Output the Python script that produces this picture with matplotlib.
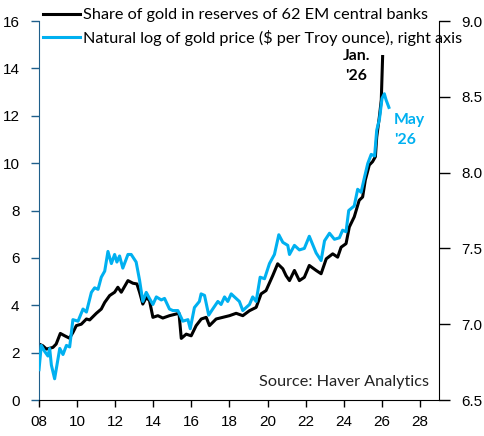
#!/usr/bin/env python3
# EM central bank gold share vs log gold price (dual axis)
import matplotlib
matplotlib.use("Agg")
import matplotlib.pyplot as plt
from matplotlib.ticker import FormatStrFormatter

# share of gold in reserves, 62 EM central banks (%, left axis)
share_years = [2008.00, 2008.20, 2008.39, 2008.73, 2008.90, 2009.12, 2009.35, 2009.60,
               2009.78, 2009.96, 2010.22, 2010.49, 2010.66, 2011.01, 2011.27, 2011.45,
               2011.71, 2011.97, 2012.14, 2012.32, 2012.67, 2012.93, 2013.14, 2013.28,
               2013.45, 2013.63, 2013.80, 2013.98, 2014.24, 2014.50, 2014.85, 2015.20,
               2015.35, 2015.47, 2015.73, 2015.99, 2016.25, 2016.52, 2016.78, 2016.95,
               2017.30, 2017.65, 2018.00, 2018.35, 2018.70, 2019.05, 2019.40, 2019.66,
               2019.92, 2020.27, 2020.53, 2020.80, 2020.97, 2021.15, 2021.41, 2021.67,
               2021.93, 2022.19, 2022.55, 2022.81, 2023.08, 2023.42, 2023.68, 2023.86,
               2024.12, 2024.29, 2024.55, 2024.81, 2024.99, 2025.13, 2025.34, 2025.51,
               2025.66, 2025.73, 2025.87, 2025.97, 2026.04]
share_gold = [2.36, 2.29, 2.15, 2.22, 2.36, 2.81, 2.71, 2.61,
              2.85, 3.14, 3.20, 3.42, 3.38, 3.66, 3.84, 4.12,
              4.41, 4.55, 4.76, 4.55, 5.04, 4.93, 4.90, 4.55,
              4.05, 4.33, 4.20, 3.49, 3.56, 3.46, 3.56, 3.63,
              3.66, 2.60, 2.78, 2.71, 3.14, 3.42, 3.49, 3.14,
              3.42, 3.49, 3.56, 3.66, 3.56, 3.77, 3.91, 4.48,
              4.62, 5.25, 5.75, 5.54, 5.25, 5.04, 5.47, 5.04,
              5.18, 5.68, 5.47, 5.33, 5.96, 6.17, 6.03, 6.45,
              6.60, 7.30, 7.73, 8.43, 8.57, 9.28, 9.92, 10.06,
              10.27, 11.10, 11.96, 12.67, 14.50]

# natural log of gold price, $ per troy ounce (right axis)
gold_years = [2008.00, 2008.12, 2008.30, 2008.47, 2008.56, 2008.65, 2008.82, 2009.09,
              2009.26, 2009.44, 2009.61, 2009.78, 2010.05, 2010.31, 2010.49, 2010.75,
              2010.92, 2011.10, 2011.27, 2011.45, 2011.62, 2011.80, 2011.97, 2012.09,
              2012.23, 2012.40, 2012.67, 2012.84, 2013.10, 2013.28, 2013.45, 2013.63,
              2013.80, 2013.98, 2014.16, 2014.42, 2014.59, 2014.85, 2015.03, 2015.29,
              2015.55, 2015.82, 2015.94, 2016.16, 2016.42, 2016.51, 2016.69, 2016.91,
              2017.12, 2017.39, 2017.56, 2017.74, 2017.91, 2018.09, 2018.26, 2018.52,
              2018.70, 2019.05, 2019.22, 2019.40, 2019.61, 2019.84, 2020.10, 2020.36,
              2020.59, 2020.80, 2021.06, 2021.15, 2021.41, 2021.67, 2021.93, 2022.19,
              2022.55, 2022.81, 2022.99, 2023.25, 2023.51, 2023.77, 2023.94, 2024.12,
              2024.26, 2024.55, 2024.73, 2024.91, 2025.09, 2025.26, 2025.44, 2025.62,
              2025.73, 2025.87, 2026.01, 2026.13, 2026.22, 2026.37]
gold_log = [6.70, 6.86, 6.82, 6.79, 6.84, 6.73, 6.64, 6.84,
            6.80, 6.86, 6.85, 7.03, 7.02, 7.10, 7.08, 7.21,
            7.24, 7.23, 7.31, 7.35, 7.48, 7.40, 7.46, 7.41,
            7.45, 7.37, 7.46, 7.46, 7.41, 7.29, 7.15, 7.21,
            7.17, 7.13, 7.18, 7.16, 7.17, 7.10, 7.09, 7.09,
            7.02, 7.03, 6.97, 7.11, 7.15, 7.20, 7.19, 7.06,
            7.10, 7.15, 7.13, 7.18, 7.15, 7.20, 7.18, 7.15,
            7.09, 7.13, 7.18, 7.15, 7.31, 7.30, 7.40, 7.46,
            7.59, 7.54, 7.52, 7.46, 7.52, 7.49, 7.50, 7.58,
            7.47, 7.42, 7.55, 7.60, 7.56, 7.57, 7.62, 7.61,
            7.75, 7.78, 7.89, 7.87, 7.97, 8.06, 8.12, 8.11,
            8.28, 8.35, 8.49, 8.52, 8.48, 8.43]

x_ticks = list(range(2008, 2030, 2))
x_labels = [f"{y % 100:02d}" for y in x_ticks]

BLUE = "#00B0F0"
TICK_FONT = "Liberation Sans"
TEXT_FONT = "Lato"

fig = plt.figure(figsize=(4.85, 4.36), dpi=100)
ax = fig.add_axes([39 / 485, 36 / 436, 400 / 485, 379 / 436])
ax2 = ax.twinx()

l1, = ax.plot(share_years, share_gold, color="black", lw=2.2,
              label="Share of gold in reserves of 62 EM central banks")
l2, = ax2.plot(gold_years, gold_log, color=BLUE, lw=2.2,
               label="Natural log of gold price ($ per Troy ounce), right axis")

ax.set_xlim(2008, 2029)
ax.set_ylim(0, 16)
ax.set_yticks(range(0, 17, 2))
ax2.set_ylim(6.5, 9.0)
ax2.set_yticks([6.5, 7.0, 7.5, 8.0, 8.5, 9.0])
ax2.yaxis.set_major_formatter(FormatStrFormatter("%.1f"))
ax.set_xticks(x_ticks)
ax.set_xticklabels(x_labels)

for a in (ax, ax2):
    a.spines["top"].set_visible(False)
    for lab in a.get_xticklabels() + a.get_yticklabels():
        lab.set_fontfamily(TICK_FONT)
        lab.set_fontsize(11)
ax2.spines["left"].set_visible(False)
ax2.spines["bottom"].set_visible(False)
ax.spines["right"].set_visible(False)
ax.spines["left"].set_color("#1F5F8B")
ax.tick_params(axis="y", colors="#1F5F8B", labelcolor="black", length=6, width=1, pad=8)
ax.tick_params(axis="x", length=5, width=1, pad=6)
ax2.tick_params(axis="y", length=8, width=1, pad=8)

ax.text(2024.66, 14.1, "Jan.\n'26", color="black", fontweight="bold",
        fontsize=11.3, family=TEXT_FONT, ha="center", va="center", linespacing=1.6)
ax.text(2026.65, 11.4, "May\n'26", color=BLUE, fontweight="bold",
        fontsize=11.3, family=TEXT_FONT, ha="left", va="center", linespacing=1.6)
ax.text(2028.49, 0.76, "Source: Haver Analytics", color="#222222",
        fontsize=11.7, family=TEXT_FONT, ha="right", va="center")

fig.legend(handles=[l1, l2], loc="upper left", bbox_to_anchor=(43 / 485, 1 - 8 / 436),
           frameon=False, borderpad=0, borderaxespad=0, handlelength=2.3,
           handletextpad=0.15, labelspacing=0.45, prop={"family": TEXT_FONT, "size": 11.7})

fig.savefig("out.png", dpi=100)
print("saved out.png")
